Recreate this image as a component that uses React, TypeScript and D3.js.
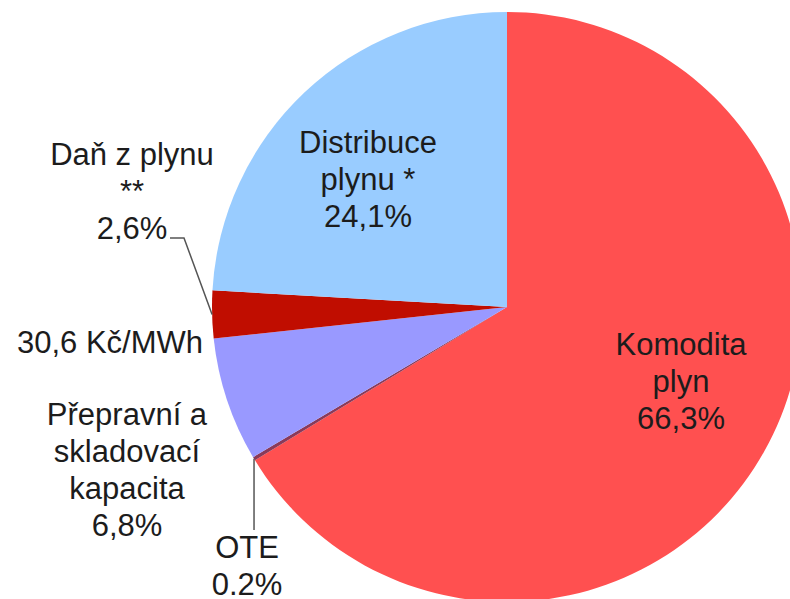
import { useMemo } from "react";
import * as d3 from "d3";

// podíly složek ceny plynu (%), ve směru hodinových ručiček od 12 h
const names = ["Komodita plyn", "OTE", "Přepravní a skladovací kapacita", "Daň z plynu", "Distribuce plynu"];
const shares = [66.3, 0.2, 6.8, 2.6, 24.1];
const colors = ["#ff5050", "#8a3a5a", "#9999ff", "#c00d00", "#99ccff"];

// text popisků (řádky)
const labelLines = [
    ["Komodita", "plyn", "66,3%"],
    ["OTE", "0.2%"],
    ["Přepravní a", "skladovací", "kapacita", "6,8%"],
    ["Daň z plynu", "**", "2,6%"],
    ["Distribuce", "plynu *", "24,1%"],
];
const extraNote = "30,6 Kč/MWh";

const W = 790;
const H = 599;
const cx = 507;
const cy = 307;
const R = 295;
const FONT = 31;
const LH = 37;

// kam se umisťují popisky (střed, první účaří) – ručně podle předlohy
const labelPos = [
    { x: 681, y: 355 },
    { x: 247, y: 558 },
    { x: 127, y: 425 },
    { x: 132, y: 165 },
    { x: 368, y: 153 },
];

export default function App() {
    const arcs = useMemo(() => {
        const pie = d3
            .pie<number>()
            .sort(null)
            .value((d) => d);
        return pie(shares);
    }, []);

    const arc = d3.arc<d3.PieArcDatum<number>>().innerRadius(0).outerRadius(R);

    // bod na obvodu uprostřed výseče
    const edge = (a: d3.PieArcDatum<number>) => {
        const m = (a.startAngle + a.endAngle) / 2;
        return [cx + R * Math.sin(m), cy - R * Math.cos(m)];
    };

    const dan = edge(arcs[3]);
    const ote = edge(arcs[1]);

    const textStyle = {
        fontFamily: "'Liberation Sans', Arial, sans-serif",
        fontSize: FONT,
        fill: "#1c1c1c",
    };

    return (
        <svg
            width={W}
            height={H}
            style={{ position: "absolute", left: 0, top: 0, background: "#fff" }}
        >
            <g transform={`translate(${cx},${cy})`}>
                {arcs.map((a, i) => (
                    <path key={names[i]} d={arc(a) ?? ""} fill={colors[i]} />
                ))}
            </g>

            {/* vodicí čáry */}
            <polyline
                points={`170,238 184,238 ${dan[0]},${dan[1]}`}
                fill="none"
                stroke="#555"
                strokeWidth={1.5}
            />
            <line
                x1={ote[0]}
                y1={ote[1]}
                x2={ote[0]}
                y2={530}
                stroke="#555"
                strokeWidth={1.5}
            />

            {labelLines.map((lines, i) => (
                <text
                    key={i}
                    x={labelPos[i].x}
                    y={labelPos[i].y}
                    textAnchor="middle"
                    style={textStyle}
                >
                    {lines.map((l, j) => (
                        <tspan key={j} x={labelPos[i].x} dy={j === 0 ? 0 : LH}>
                            {l}
                        </tspan>
                    ))}
                </text>
            ))}

            <text x={203} y={353} textAnchor="end" style={textStyle}>
                {extraNote}
            </text>
        </svg>
    );
}
